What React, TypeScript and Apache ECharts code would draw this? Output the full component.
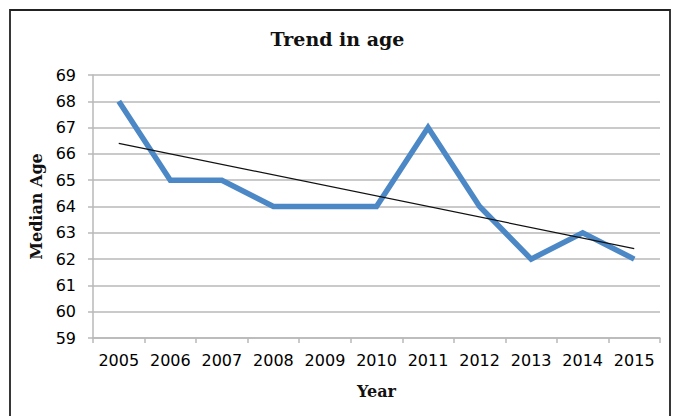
import React, { useEffect, useRef } from "react";
import * as echarts from "echarts";

const years = ["2005", "2006", "2007", "2008", "2009", "2010", "2011", "2012", "2013", "2014", "2015"];
const medianAge = [68, 65, 65, 64, 64, 64, 67, 64, 62, 63, 62];
// trend line end points (2005 and 2015)
const trendValues = [66.4, null, null, null, null, null, null, null, null, null, 62.4];

const gray = "#b8b8b8";

export default function App() {
  const ref = useRef<HTMLDivElement>(null);
  useEffect(() => {
    const chart = echarts.init(ref.current!, null, { renderer: "svg" });
    chart.setOption({
      animation: false,
      backgroundColor: "#ffffff",
      title: {
        text: "Trend in age",
        left: "center",
        top: 24,
        textStyle: { fontFamily: "DejaVu Serif", fontWeight: "bold", fontSize: 19, color: "#111" },
      },
      graphic: [
        {
          type: "rect",
          shape: { x: 10, y: 10, width: 660, height: 430 },
          style: { fill: "none", stroke: "#222", lineWidth: 1.8 },
          silent: true,
        },
      ],
      grid: { left: 93, right: 15, top: 75, bottom: 78 },
      xAxis: {
        type: "category",
        data: years,
        boundaryGap: true,
        name: "Year",
        nameLocation: "middle",
        nameGap: 45,
        nameTextStyle: { fontFamily: "DejaVu Serif", fontWeight: "bold", fontSize: 16, color: "#111" },
        axisLine: { lineStyle: { color: gray, width: 1.5 } },
        axisTick: { show: true, length: 5, alignWithLabel: false, lineStyle: { color: gray, width: 1.5 } },
        axisLabel: { fontFamily: "DejaVu Sans", fontSize: 16, color: "#000", margin: 14, interval: 0 },
        splitLine: { show: false },
      },
      yAxis: {
        type: "value",
        min: 59,
        max: 69,
        interval: 1,
        name: "Median Age",
        nameLocation: "middle",
        nameRotate: 90,
        nameGap: 47,
        nameTextStyle: { fontFamily: "DejaVu Serif", fontWeight: "bold", fontSize: 16, color: "#111" },
        axisLine: { show: true, lineStyle: { color: gray, width: 1.5 } },
        axisTick: { show: true, length: 5, lineStyle: { color: gray, width: 1.5 } },
        axisLabel: { fontFamily: "DejaVu Sans", fontSize: 16, color: "#000", margin: 17 },
        splitLine: { show: true, lineStyle: { color: gray, width: 1.5 } },
      },
      series: [
        {
          type: "line",
          data: medianAge,
          symbol: "none",
          lineStyle: { color: "#4d88c6", width: 5.5, join: "miter" },
          z: 2,
        },
        {
          type: "line",
          data: trendValues,
          connectNulls: true,
          symbol: "none",
          lineStyle: { color: "#111", width: 1.2 },
          z: 3,
        },
      ],
    });
    return () => chart.dispose();
  }, []);
  return (
    <div
      ref={ref}
      style={{ position: "fixed", left: 0, top: 0, width: 675, height: 416 }}
    />
  );
}
